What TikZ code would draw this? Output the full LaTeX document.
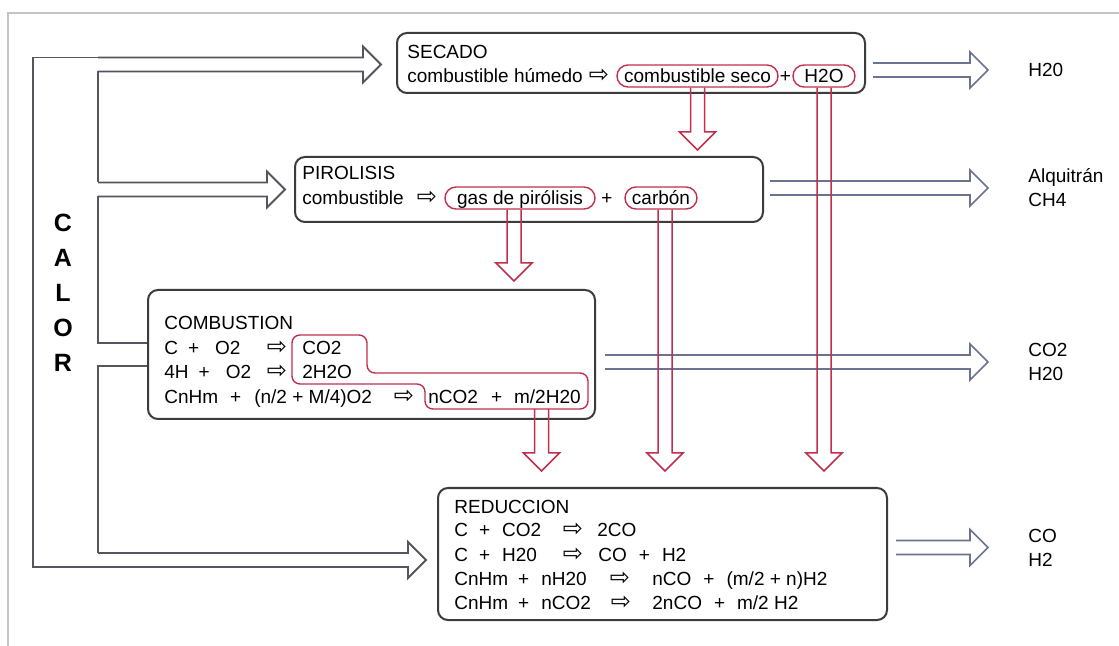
\documentclass[tikz,border=0pt]{standalone}
\usepackage{fontspec}
\setmainfont{Liberation Sans}
\newfontfamily\arrowfont{DejaVu Sans}
\usetikzlibrary{calc}
\definecolor{boxgray}{HTML}{3C3C3C}
\definecolor{calorgray}{HTML}{55555F}
\definecolor{pillred}{HTML}{C0304E}
\definecolor{outblue}{HTML}{6A7390}
\definecolor{framegray}{HTML}{C4C4C4}
\newcommand{\txtsize}{\fontsize{9.5pt}{12pt}\selectfont}
\newcommand{\flecha}{{\arrowfont\fontsize{12pt}{12pt}\selectfont ⇨}}
\tikzset{
  box/.style={draw=boxgray, line width=1pt, rounded corners=5pt, inner sep=0pt},
  txt/.style={anchor=west, inner sep=0pt, font=\txtsize, text height=6.8pt, text depth=0pt},
  sym/.style={inner sep=0pt, font=\txtsize, text height=6.8pt, text depth=0pt},
  pill/.style={draw=pillred, line width=0.7pt, rounded corners=5.5pt, minimum height=11pt,
               inner sep=0pt, font=\txtsize, text height=6.8pt, text depth=0pt},
  lab/.style={anchor=west, align=left, inner sep=0pt, font=\txtsize},
  hollow/.style={to path={(\tikztostart) coordinate (hs) (\tikztotarget) coordinate (ht)
      ($(hs)!3.5pt!90:(ht)$) -- ($(ht)!9pt!(hs)!3.5pt!90:(ht)$) -- ($(ht)!9pt!(hs)!9pt!90:(ht)$) -- (ht)
      -- ($(ht)!9pt!(hs)!9pt!-90:(ht)$) -- ($(ht)!9pt!(hs)!3.5pt!-90:(ht)$) -- ($(hs)!3.5pt!-90:(ht)$)}},
  calorarr/.style={draw=calorgray, line width=0.9pt},
  outarr/.style={draw=outblue, line width=0.8pt},
  redarr/.style={draw=pillred, line width=0.75pt},
}

\begin{document}
\begin{tikzpicture}[x=0.5pt, y=-0.5pt]
  \fill[white] (0,0) rectangle (1119,646);
  \useasboundingbox (0,0) rectangle (1119,646);
  \draw[framegray, line width=1pt] (8,646) -- (8,13) -- (1119,13);

  % etapas
  \node[box, minimum width=234pt, minimum height=30pt] (secado) at (631,63) {};
  \node[box, minimum width=234pt, minimum height=32.5pt] (pirolisis) at (529,189.5) {};
  \node[box, minimum width=223.5pt, minimum height=64.5pt] (combustion) at (371.5,354.5) {};
  \node[box, minimum width=224.5pt, minimum height=66pt] (reduccion) at (662.5,554) {};

  % secado
  \node[txt] (sectit) at (407,52) {SECADO};
  \node[txt] (humedo) at (407,76) {combustible húmedo};
  \node[sym] (f1) at (599,76) {\flecha};
  \node[pill, minimum width=80.5pt] (seco) at (697.5,76) {combustible seco};
  \node[sym] (mas1) at (785.5,76) {+};
  \node[pill, minimum width=31pt] (h2o) at (824,76) {H2O};

  % pirolisis
  \node[txt] (pirtit) at (302,173) {PIROLISIS};
  \node[txt] (combus) at (302,198) {combustible};
  \node[sym] (f2) at (427,198) {\flecha};
  \node[pill, minimum width=75pt] (gas) at (520,198) {gas de pirólisis};
  \node[sym] (mas2) at (607,198) {+};
  \node[pill, minimum width=36pt] (carbon) at (661,198) {carbón};

  % combustion
  \node[txt] (combtit) at (164,323) {COMBUSTION};
  \node[txt] (c1) at (164,348) {C\hspace{5pt}+\hspace{8pt}O2};
  \node[sym] (f3) at (277,348) {\flecha};
  \node[txt] (co2) at (302,348) {CO2};
  \node[txt] (c2) at (164,372) {4H\hspace{5pt}+\hspace{8pt}O2};
  \node[sym] (f4) at (277,372) {\flecha};
  \node[txt] (agua) at (302,372) {2H2O};
  \node[txt] (c3) at (164,397) {CnHm\hspace{6pt}+\hspace{6.5pt}(n/2 + M/4)O2};
  \node[sym] (f5) at (404,397) {\flecha};
  \node[txt] (prod) at (428,397) {nCO2\hspace{6.5pt}+\hspace{6pt}m/2H20};
  \draw[pillred, line width=0.7pt, rounded corners=4pt] (292,360) -- (292,335) -- (367,335) -- (367,373)
    -- (588,373) -- (588,409) -- (425,409) -- (425,384) -- (292,384) -- cycle;
  \coordinate (prodout) at (541.5,409);

  % reduccion
  \node[txt] (redtit) at (454,507) {REDUCCION};
  \node[txt] (d1) at (454,530) {C\hspace{5.5pt}+\hspace{6pt}CO2};
  \node[sym] (f6) at (573,530) {\flecha};
  \node[txt] (e1) at (597,530) {2CO};
  \node[txt] (d2) at (454,555) {C\hspace{5.5pt}+\hspace{6pt}H20};
  \node[sym] (f7) at (573,555) {\flecha};
  \node[txt] (e2) at (598,555) {CO\hspace{6pt}+\hspace{6pt}H2};
  \node[txt] (d3) at (454,579) {CnHm\hspace{5pt}+\hspace{6pt}nH20};
  \node[sym] (f8) at (620,579) {\flecha};
  \node[txt] (e3) at (652,579) {nCO\hspace{6pt}+\hspace{6pt}(m/2 + n)H2};
  \node[txt] (d4) at (454,603) {CnHm\hspace{5pt}+\hspace{6pt}nCO2};
  \node[sym] (f9) at (621,603) {\flecha};
  \node[txt] (e4) at (652,603) {2nCO\hspace{6pt}+\hspace{6pt}m/2 H2};

  % salidas
  \node[lab] (outsec) at (1028,70) {H20};
  \node[lab] (outpir) at (1028,188) {Alquitrán\\CH4};
  \node[lab] (outcomb) at (1028,362) {CO2\\H20};
  \node[lab] (outred) at (1028,547.5) {CO\\H2};
  \draw[outarr] ($(secado.east |- outsec.west)+(7,0)$) to[hollow] ($(outsec.west)+(-40,0)$);
  \draw[outarr] ($(pirolisis.east |- outpir.west)+(6,0)$) to[hollow] ($(outpir.west)+(-40,0)$);
  \draw[outarr] ($(combustion.east |- outcomb.west)+(9,0)$) to[hollow] ($(outcomb.west)+(-40,0)$);
  \draw[outarr] ($(reduccion.east |- outred.west)+(8,0)$) to[hollow] ($(outred.west)+(-40,0)$);

  % productos hacia abajo
  \coordinate (gasout) at ($(gas.south)+(-6,0)$);
  \coordinate (carbout) at ($(carbon.south)+(4,0)$);
  \draw[redarr] (seco.south) to[hollow] ($(seco.south |- pirolisis.north)+(0,-6)$);
  \draw[redarr] (h2o.south) to[hollow] ($(h2o.south |- reduccion.north)+(0,-16)$);
  \draw[redarr] (gasout) to[hollow] ($(gasout |- combustion.north)+(0,-8)$);
  \draw[redarr] (carbout) to[hollow] ($(carbout |- reduccion.north)+(0,-16)$);
  \draw[redarr] (prodout) to[hollow] ($(prodout |- reduccion.north)+(0,-16)$);

  % calor
  \node[font=\fontsize{12.5pt}{17.5pt}\selectfont\bfseries, align=center, inner sep=0pt] (calor) at (63,293) {C\\A\\L\\O\\R};
  \coordinate (tsec) at (98,64.5);
  \coordinate (tpir) at (tsec |- pirolisis.west);
  \coordinate (tred) at (98,560);
  \draw[calorarr] (tsec) to[hollow] ($(secado.west |- tsec)+(-15,0)$);
  \draw[calorarr] (tpir) to[hollow] ($(pirolisis.west)+(-9,0)$);
  \draw[calorarr] (tred) to[hollow] ($(reduccion.west |- tred)+(-11,0)$);
  \draw[calorarr] ($(tsec)+(0,-7)$) -| ($(tred)+(-65,7)$) -- ($(tred)+(0,7)$);
  \draw[calorarr] ($(tsec)+(0,7)$) -- ($(tpir)+(0,-7)$);
  \draw[calorarr] ($(tpir)+(0,7)$) |- ($(combustion.west)+(0,-11.5)$);
  \draw[calorarr] ($(combustion.west)+(0,11.5)$) -| ($(tred)+(0,-7)$);
\end{tikzpicture}
\end{document}
